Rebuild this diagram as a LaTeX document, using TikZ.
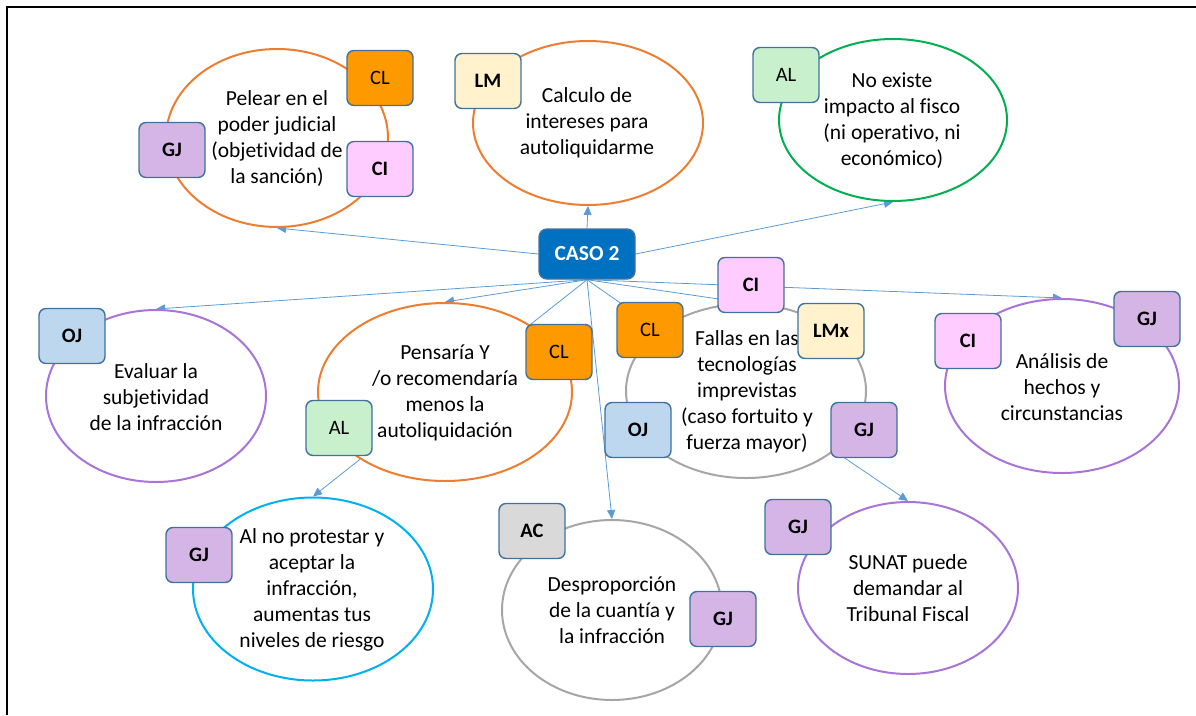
\documentclass[tikz,border=0pt]{standalone}
\usepackage{fontspec}
\setmainfont{Carlito}[Ligatures=NoCommon]
\usetikzlibrary{shapes.geometric,arrows.meta}
\pgfdeclarelayer{bg}
\pgfsetlayers{bg,main}
\definecolor{orng}{HTML}{ED7D31}
\definecolor{grn}{HTML}{00B050}
\definecolor{purp}{HTML}{A974DA}
\definecolor{blu}{HTML}{00B0F0}
\definecolor{gry}{HTML}{A6A6A6}
\definecolor{linkc}{HTML}{5B9BD5}
\definecolor{boxb}{HTML}{41719C}
\definecolor{gjc}{HTML}{D4B5E6}
\definecolor{cic}{HTML}{FFCCFF}
\definecolor{clc}{HTML}{FF9900}
\definecolor{lmc}{HTML}{FFF2CC}
\definecolor{alc}{HTML}{C9F0CC}
\definecolor{ojc}{HTML}{BDD7EE}
\definecolor{acc}{HTML}{D9D9D9}
\definecolor{casoc}{HTML}{0070C0}
\begin{document}
\begin{tikzpicture}[x=1pt,y=-1pt,
  ring/.style={ellipse, draw, line width=2pt, fill=white, inner sep=0pt},
  txt/.style={align=center, font=\fontsize{21.5}{26}\selectfont, inner sep=0pt},
  tag/.style={rounded corners=7pt, draw=boxb, line width=1.4pt, minimum width=66pt, minimum height=55pt, inner sep=0pt, font=\fontsize{20.5}{24}\selectfont},
  bold/.style={font=\fontsize{20.5}{24}\selectfont\bfseries},
  link/.style={draw=linkc, line width=0.8pt},
  arr/.style={link, -{Triangle[length=9pt,width=8pt]}}]
\useasboundingbox (0,0) rectangle (1196,715);
\draw[line width=2pt] (7,715) -- (7,7) -- (1196,7);

% ellipses
\node[ring, draw=orng, minimum width=222pt, minimum height=178pt] (pel) at (277,138) {};
\node[ring, draw=orng, minimum width=230pt, minimum height=164pt] (calc) at (588,123) {};
\node[ring, draw=grn, minimum width=228pt, minimum height=162pt] (ne) at (893,120) {};
\node[ring, draw=purp, minimum width=220pt, minimum height=172pt] (ev) at (156,396) {};
\node[ring, draw=orng, minimum width=254pt, minimum height=178pt] (pens) at (445,392) {};
\node[ring, draw=gry, minimum width=240pt, minimum height=174pt] (fal) at (746,391) {};
\node[ring, draw=purp, minimum width=234pt, minimum height=174pt] (an) at (1062,386) {};
\node[ring, draw=blu, minimum width=240pt, minimum height=183pt] (alno) at (313,589) {};
\node[ring, draw=gry, minimum width=220pt, minimum height=180pt] (dp) at (612,610) {};
\node[ring, draw=purp, minimum width=220pt, minimum height=172pt] (sunat) at (908,588) {};

% texts
\node[txt] (pel-t) at (277,139) {Pelear en el\\poder judicial\\(objetividad de\\la sanción)};
\node[txt] (calc-t) at (587,123) {Calculo de\\intereses para\\autoliquidarme};
\node[txt] (ne-t) at (892,121) {No existe\\impacto al fisco\\(ni operativo, ni\\económico)};
\node[txt] (ev-t) at (156,397) {Evaluar la\\subjetividad\\de la infracción};
\node[txt] (pens-t) at (445,393) {Pensaría Y\\/o recomendaría\\menos la\\autoliquidación};
\node[txt] (fal-t) at (747,392) {Fallas en las\\tecnologías\\imprevistas\\(caso fortuito y\\fuerza mayor)};
\node[txt] (an-t) at (1062,387) {Análisis de\\hechos y\\circunstancias};
\node[txt] (alno-t) at (312,590) {Al no protestar y\\aceptar la\\infracción,\\aumentas tus\\niveles de riesgo};
\node[txt] (dp-t) at (612,610) {Desproporción\\de la cuantía y\\la infracción};
\node[txt] (sunat-t) at (908,588) {SUNAT puede\\demandar al\\Tribunal Fiscal};

% center
\node[tag, fill=casoc, text=white, minimum width=96pt, minimum height=50pt, rounded corners=8pt, font=\fontsize{21.5}{24}\selectfont\bfseries] (caso) at (587,254) {CASO 2};

% tags
\node[tag, fill=gjc, bold] (pel-gj) at (172,150) {GJ};
\node[tag, fill=clc] (pel-cl) at (380,78) {CL};
\node[tag, fill=cic, bold] (pel-ci) at (380,169) {CI};
\node[tag, fill=lmc, bold] (calc-lm) at (488,81) {LM};
\node[tag, fill=alc] (ne-al) at (786,75) {AL};
\node[tag, fill=ojc, bold] (ev-oj) at (72,336) {OJ};
\node[tag, fill=clc] (pens-cl) at (559,352) {CL};
\node[tag, fill=alc] (pens-al) at (339,428) {AL};
\node[tag, fill=cic, bold] (fal-ci) at (751,285) {CI};
\node[tag, fill=clc] (fal-cl) at (650,330) {CL};
\node[tag, fill=lmc, bold] (fal-lm) at (831,331) {LMx};
\node[tag, fill=ojc, bold] (fal-oj) at (638,430) {OJ};
\node[tag, fill=gjc, bold] (fal-gj) at (864,430) {GJ};
\node[tag, fill=cic, bold] (an-ci) at (968,341) {CI};
\node[tag, fill=gjc, bold] (an-gj) at (1147,319) {GJ};
\node[tag, fill=gjc, bold] (alno-gj) at (199,555) {GJ};
\node[tag, fill=acc, bold] (dp-ac) at (532,531) {AC};
\node[tag, fill=gjc, bold] (dp-gj) at (723,619) {GJ};
\node[tag, fill=gjc, bold] (sunat-gj) at (798,527) {GJ};

% connectors
\begin{pgfonlayer}{bg}
\draw[arr] (caso.west) -- (pel.south);
\draw[arr] (caso.north) -- (calc.south);
\draw[arr] (caso.east) -- (ne.south);
\draw[arr] (caso.south) -- (ev.north);
\draw[arr] (caso.south) -- (pens.north);
\draw[link] (caso.south) -- (pens);
\draw[arr] (caso.south) -- (dp.north);
\draw[link] (caso.south) -- (fal);
\draw[link] (caso.south) -- (fal.north);
\draw[arr] (caso.south) -- (an.north);
\draw[arr] (pens) -- (alno.north);
\draw[arr] (fal) -- (sunat.north);
\end{pgfonlayer}
\end{tikzpicture}
\end{document}
